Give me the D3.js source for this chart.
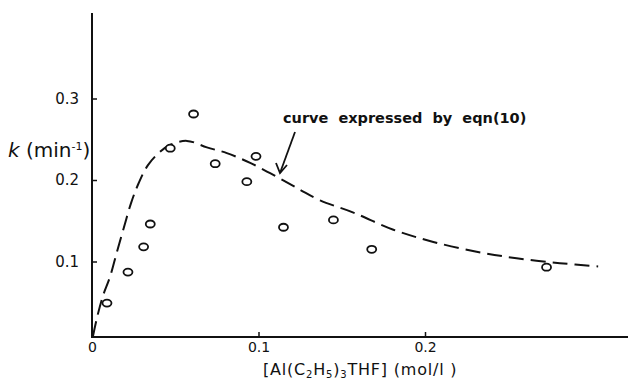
<!DOCTYPE html>
<html>
<head>
<meta charset="utf-8">
<script src="https://cdn.jsdelivr.net/npm/d3@7"></script>
<style>
  body { margin: 0; background: #fff; }
  svg { display: block; }
  text { font-family: "DejaVu Sans", sans-serif; fill: #111; }
</style>
</head>
<body>
<svg id="chart" width="628" height="382"></svg>
<script>
(function () {
    'use strict';

    // measured points: concentration (mol/l) vs k (min^-1)
    var concX = [0.009, 0.0216, 0.031, 0.035, 0.047, 0.061, 0.074, 0.093, 0.0985, 0.115, 0.145, 0.168, 0.273];
    var kVals = [0.049, 0.087, 0.118, 0.146, 0.239, 0.281, 0.220, 0.198, 0.229, 0.142, 0.151, 0.115, 0.093];

    // dashed curve, eqn (10)
    var curveX = [0.0006, 0.003, 0.0066, 0.0108, 0.015, 0.0192, 0.0235, 0.028, 0.0335, 0.0400, 0.0468, 0.057,
                  0.069, 0.081, 0.095, 0.111, 0.125, 0.137, 0.157, 0.181, 0.205, 0.231, 0.255, 0.281, 0.304];
    var curveY = [0.0086, 0.031, 0.058, 0.081, 0.112, 0.142, 0.172, 0.196, 0.218, 0.233, 0.243, 0.248,
                  0.240, 0.233, 0.221, 0.204, 0.188, 0.175, 0.160, 0.139, 0.124, 0.112, 0.104, 0.098, 0.094];

    var xTicks = [0, 0.1, 0.2];
    var xTickLabels = ['0', '0.1', '0.2'];
    var yTicks = [0.1, 0.2, 0.3];
    var yTickLabels = ['0.1', '0.2', '0.3'];

    var svg = d3.select('#chart');

    var x = d3.scaleLinear().domain([0, 0.2]).range([92, 425]);
    var y = d3.scaleLinear().domain([0, 0.3]).range([343, 98.5]);

    var baseY = 337;   // x axis line sits a touch above k = 0
    var topY = 13;

    // axis lines
    svg.append('line')
        .attr('x1', x(0)).attr('x2', x(0))
        .attr('y1', topY).attr('y2', baseY)
        .style('stroke', '#111').style('stroke-width', 2);
    svg.append('line')
        .attr('x1', x(0) - 1).attr('x2', 628)
        .attr('y1', baseY).attr('y2', baseY)
        .style('stroke', '#111').style('stroke-width', 2);

    // y ticks (pointing inwards)
    var yAxis = d3.axisLeft(y)
        .tickValues(yTicks)
        .tickSize(-5)
        .tickPadding(13)
        .tickFormat(function (d, i) { return yTickLabels[i]; });
    var gy = svg.append('g')
        .attr('transform', 'translate(' + x(0) + ',0)')
        .call(yAxis);
    gy.select('.domain').remove();
    gy.selectAll('.tick line').style('stroke', '#111').style('stroke-width', 1.5);
    gy.selectAll('.tick text')
        .style('font-size', '15px')
        .style('font-family', '"DejaVu Sans", sans-serif')
        .style('fill', '#111');

    // x ticks
    var xAxis = d3.axisBottom(x)
        .tickValues(xTicks)
        .tickSize(-5)
        .tickPadding(5)
        .tickFormat(function (d, i) { return xTickLabels[i]; });
    var gx = svg.append('g')
        .attr('transform', 'translate(0,' + baseY + ')')
        .call(xAxis);
    gx.select('.domain').remove();
    gx.selectAll('.tick line').style('stroke', '#111').style('stroke-width', 1.5);
    gx.selectAll('.tick text')
        .style('font-size', '14px')
        .style('font-family', '"DejaVu Sans", sans-serif')
        .style('fill', '#111');

    // dashed curve
    var line = d3.line()
        .x(function (d) { return x(d[0]); })
        .y(function (d) { return y(d[1]); })
        .curve(d3.curveCatmullRom);
    svg.append('path')
        .datum(d3.zip(curveX, curveY))
        .attr('d', line)
        .style('fill', 'none')
        .style('stroke', '#111')
        .style('stroke-width', 2)
        .style('stroke-dasharray', '15,7');

    // open circle markers
    svg.selectAll('ellipse.pt')
        .data(d3.zip(concX, kVals))
        .enter().append('ellipse')
        .attr('class', 'pt')
        .attr('cx', function (d) { return x(d[0]); })
        .attr('cy', function (d) { return y(d[1]); })
        .attr('rx', 4.5)
        .attr('ry', 3.5)
        .style('fill', '#fff')
        .style('stroke', '#111')
        .style('stroke-width', 1.8);

    // annotation + arrow
    svg.append('text')
        .attr('x', 283).attr('y', 123)
        .style('font-size', '14.5px')
        .style('font-weight', 'bold')
        .style('word-spacing', '5px')
        .text('curve expressed by eqn(10)');
    svg.append('line')
        .attr('x1', 295).attr('y1', 132)
        .attr('x2', 280).attr('y2', 173)
        .style('stroke', '#111').style('stroke-width', 1.8);
    svg.append('path')
        .attr('d', 'M276,163 L280,173 L287,165')
        .style('fill', 'none').style('stroke', '#111').style('stroke-width', 1.8);

    // y label
    var yl = svg.append('text')
        .attr('x', 8).attr('y', 157)
        .style('font-size', '20px');
    yl.append('tspan').style('font-style', 'italic').text('k');
    yl.append('tspan').text(' (min');
    yl.append('tspan').attr('dy', -7).style('font-size', '11px').text('-1');
    yl.append('tspan').attr('dy', 7).text(')');

    // x label
    var xl = svg.append('text')
        .attr('x', 263).attr('y', 375)
        .style('font-size', '16px')
        .style('letter-spacing', '0.8px');
    xl.append('tspan').text('[Al(C');
    xl.append('tspan').attr('dy', 3).style('font-size', '10px').text('2');
    xl.append('tspan').attr('dy', -3).text('H');
    xl.append('tspan').attr('dy', 3).style('font-size', '10px').text('5');
    xl.append('tspan').attr('dy', -3).text(')');
    xl.append('tspan').attr('dy', 3).style('font-size', '10px').text('3');
    xl.append('tspan').attr('dy', -3).text('THF] (mol/l )');
}());
</script>
</body>
</html>
